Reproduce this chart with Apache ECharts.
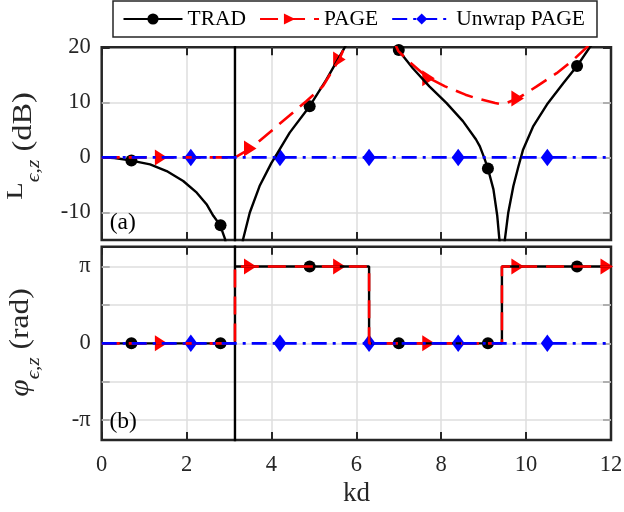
<!DOCTYPE html>
<html>
<head>
<meta charset="utf-8">
<script src="https://cdn.jsdelivr.net/npm/echarts@6/dist/echarts.min.js"></script>
<style>
html,body{margin:0;padding:0;background:#fff;}
#chart{width:624px;height:512px;}
</style>
</head>
<body>
<div id="chart"></div>
<script>
const PI = Math.PI;

// ---------- data ----------
const seriesNames = ['TRAD', 'PAGE', 'Unwrap PAGE'];

// (a) magnitude, dB
const kdTradMag = [0, 0.3, 0.67, 1.14, 1.53, 1.92, 2.24, 2.47, 2.63, 2.79, 2.905, 2.95, 3.14, 3.14, 3.14, 3.30, 3.33, 3.49, 3.72, 4.0, 4.08, 4.43, 4.90, 5.29, 5.69, 5.80, 6.0, 6.28, 6.6, 6.9, 6.96, 7.33, 7.72, 8.12, 8.51, 8.82, 8.91, 9.0, 9.09, 9.23, 9.32, 9.37, 9.40, 9.42, 9.46, 9.50, 9.58, 9.70, 9.82, 9.93, 10.17, 10.49, 10.88, 11.19, 11.5, 11.7, 12];
const tradMag   = [0, -0.1, -0.54, -1.27, -2.47, -4.28, -6.4, -8.5, -10.6, -12.3, -14.8, -17, -60, 60, -60, -17, -14.9, -10, -5.2, -1.0, 0, 4.5, 9.3, 14.1, 19.5, 21, 26, 50, 27, 20.5, 19.8, 16.2, 12.9, 9.9, 6.6, 3.25, 2.0, 0.2, -1.75, -5.8, -10.6, -14.9, -17.5, -50, -17.5, -14.9, -10, -5.2, -1.6, 1.45, 5.7, 9.6, 13.5, 16.5, 20, 22, 25];

const kdPageMag = [0, 3.14, 3.53, 4.04, 4.82, 5.21, 5.61, 5.72, 5.9, 6.28, 6.6, 6.99, 7.23, 7.66, 8.09, 8.57, 8.8, 9.27, 9.4, 9.54, 9.82, 10.25, 10.72, 11.11, 11.43, 12];
const pageMag   = [0, 0, 1.75, 5.1, 10.2, 12.9, 18.0, 20, 23, 35, 26, 19.3, 17.5, 14.6, 12.9, 11.4, 10.8, 9.9, 9.7, 9.9, 10.8, 12.9, 15.3, 17.7, 20, 24];

const kdUnwrapMag = [0, 12];
const unwrapMag   = [0, 0];

const kdTradMarks = [0.7, 2.8, 4.9, 7.0, 9.1, 11.2];
const tradMagMarks = [-0.55, -12.3, 9.3, 19.5, -2.0, 16.6];
const kdPageMarksMag = [1.4, 3.5, 5.6, 7.7, 9.8];
const pageMagMarks = [0, 1.6, 17.8, 14.4, 10.7];
const kdUnwrapMarks = [2.1, 4.2, 6.3, 8.4, 10.5];
const unwrapMagMarks = [0, 0, 0, 0, 0];

// (b) phase, rad
const kdTradPhase = [0, 3.14, 3.14, 3.14, 3.14, 6.30, 6.30, 9.43, 9.43, 12];
const tradPhase   = [0, 0, -10, 10, PI, PI, 0, 0, PI, PI];
const kdPagePhase = [0, 3.14, 3.14, 6.30, 6.30, 9.43, 9.43, 12];
const pagePhase   = [0, 0, PI, PI, 0, 0, PI, PI];
const kdUnwrapPhase = [0, 12];
const unwrapPhase   = [0, 0];

const tradPhaseMarks = [0, 0, PI, 0, 0, PI];
const kdPageMarksPhase = [1.4, 3.5, 5.6, 7.7, 9.8, 11.9];
const pagePhaseMarks = [0, PI, PI, 0, PI, PI];
const unwrapPhaseMarks = [0, 0, 0, 0, 0];

// axes / ticks
const magTicks = [-10, 0, 10, 20];
const magGrid = [-10, 0, 10];
const phaseTicks = [-PI, -PI / 2, 0, PI / 2, PI];
const phaseLabelValues = [-PI, 0, PI];
const phaseLabelText = ['-π', '0', 'π'];

// ---------- chart ----------
const FONT = '"Liberation Serif", "Times New Roman", serif';
const AXC = '#262626';
const GRIDC = '#dedede';
const pairs = (xs, ys) => xs.map((x, i) => [x, ys[i]]);

const styles = {
  'TRAD': {color: '#000000', width: 2.4, dash: 'solid', symbol: 'circle', size: 12, rotate: 0},
  'PAGE': {color: '#ff0000', width: 2.6, dash: [18, 9], symbol: 'triangle', size: [16, 12.5], rotate: -90},
  'Unwrap PAGE': {color: '#0000ff', width: 2.6, dash: [15, 6, 3, 6], symbol: 'diamond', size: [13, 17.5], rotate: 0}
};

function lineSeries(name, xs, ys, gi) {
  const s = styles[name];
  return {
    name: name, type: 'line', xAxisIndex: gi, yAxisIndex: gi,
    data: pairs(xs, ys), showSymbol: false, symbol: s.symbol, symbolSize: 11, symbolRotate: s.rotate,
    lineStyle: {color: s.color, width: s.width, type: s.dash},
    itemStyle: {color: s.color}, clip: true, silent: true, animation: false
  };
}
function markSeries(name, xs, ys, gi) {
  const s = styles[name];
  return {
    name: name, type: 'scatter', xAxisIndex: gi, yAxisIndex: gi,
    data: pairs(xs, ys), symbol: s.symbol, symbolSize: s.size, symbolRotate: s.rotate,
    itemStyle: {color: s.color, opacity: 1}, silent: true, animation: false
  };
}
// horizontal grid lines drawn as mark lines on an empty helper series
function gridSeries(gi, values) {
  return {
    type: 'line', xAxisIndex: gi, yAxisIndex: gi, data: [], silent: true, animation: false,
    markLine: {
      silent: true, symbol: 'none', z: 1, animation: false,
      label: {show: false},
      lineStyle: {color: GRIDC, width: 1.5, type: 'solid'},
      emphasis: {disabled: true},
      data: values.map(v => ({yAxis: v}))
    }
  };
}

const tickStyle = {show: true, inside: true, length: 8, lineStyle: {color: AXC, width: 2}};
const vGrid = {show: true, showMinLine: false, showMaxLine: false, lineStyle: {color: GRIDC, width: 1.5}};
const labelStyle = {fontFamily: FONT, fontSize: 22.5, color: AXC};
const noLine = {show: false, onZero: false};

function xAx(gi, pos, labels) {
  return {
    type: 'value', gridIndex: gi, position: pos, min: 0, max: 12, interval: 2,
    axisLine: noLine,
    axisTick: tickStyle,
    axisLabel: labels ? Object.assign({show: true, margin: 14, showMinLabel: true, showMaxLabel: true}, labelStyle) : {show: false},
    splitLine: pos === 'bottom' ? vGrid : {show: false}
  };
}
function yAx(gi, pos, min, max, ticks, labelVals, fmt) {
  return {
    type: 'value', gridIndex: gi, position: pos, min: min, max: max,
    axisLine: noLine,
    axisTick: Object.assign({customValues: ticks}, tickStyle),
    axisLabel: labelVals ? Object.assign({show: true, margin: 11, customValues: labelVals, formatter: fmt}, labelStyle) : {show: false},
    splitLine: {show: false}
  };
}
const phaseFmt = v => {
  for (let i = 0; i < phaseLabelValues.length; i++) {
    if (Math.abs(v - phaseLabelValues[i]) < 1e-6) return phaseLabelText[i];
  }
  return '';
};

const gridL = 101.7, gridW = 509.3;
const option = {
  animation: false,
  backgroundColor: '#ffffff',
  grid: [
    {left: gridL, top: 47.3, width: gridW, height: 192.7, show: true, borderColor: AXC, borderWidth: 2.5, backgroundColor: 'transparent', containLabel: false, outerBoundsMode: 'none'},
    {left: gridL, top: 246.7, width: gridW, height: 193.3, show: true, borderColor: AXC, borderWidth: 2.5, backgroundColor: 'transparent', containLabel: false, outerBoundsMode: 'none'}
  ],
  xAxis: [xAx(0, 'bottom', false), xAx(1, 'bottom', true), xAx(0, 'top', false), xAx(1, 'top', false)],
  yAxis: [
    yAx(0, 'left', -15, 20, magTicks, magTicks, v => String(v)),
    yAx(1, 'left', -3.95, 3.95, phaseTicks, phaseLabelValues, phaseFmt),
    yAx(0, 'right', -15, 20, magTicks, null, null),
    yAx(1, 'right', -3.95, 3.95, phaseTicks, null, null)
  ],
  legend: {
    left: 113, top: 1,
    data: seriesNames,
    itemWidth: 59, itemHeight: 14, itemGap: 13,
    padding: [7, 12, 7, 9.5],
    borderColor: AXC, borderWidth: 1.5, backgroundColor: '#ffffff',
    textStyle: {fontFamily: FONT, fontSize: 21.5, color: '#000000'},
    selectedMode: false
  },
  series: [
    gridSeries(0, magGrid),
    gridSeries(1, phaseTicks.filter(v => Math.abs(v) < 3.5)),
    lineSeries('TRAD', kdTradMag, tradMag, 0),
    markSeries('TRAD', kdTradMarks, tradMagMarks, 0),
    lineSeries('PAGE', kdPageMag, pageMag, 0),
    markSeries('PAGE', kdPageMarksMag, pageMagMarks, 0),
    lineSeries('Unwrap PAGE', kdUnwrapMag, unwrapMag, 0),
    markSeries('Unwrap PAGE', kdUnwrapMarks, unwrapMagMarks, 0),
    lineSeries('TRAD', kdTradPhase, tradPhase, 1),
    markSeries('TRAD', kdTradMarks, tradPhaseMarks, 1),
    lineSeries('PAGE', kdPagePhase, pagePhase, 1),
    markSeries('PAGE', kdPageMarksPhase, pagePhaseMarks, 1),
    lineSeries('Unwrap PAGE', kdUnwrapPhase, unwrapPhase, 1),
    markSeries('Unwrap PAGE', kdUnwrapMarks, unwrapPhaseMarks, 1)
  ],
  graphic: [
    {
      type: 'text', x: 23.7, y: 146, rotation: Math.PI / 2, scaleX: 1.2, silent: true,
      style: {
        text: '{l|L}{s|ϵ,z}{m| (dB)}', align: 'center', verticalAlign: 'middle',
        rich: {
          m: {fontFamily: FONT, fontSize: 27, lineHeight: 40, fill: AXC},
          l: {fontFamily: FONT, fontSize: 24, lineHeight: 28, verticalAlign: 'top', fill: AXC},
          s: {fontFamily: FONT, fontSize: 18, lineHeight: 18, verticalAlign: 'bottom', fontStyle: 'italic', fill: AXC}
        }
      }
    },
    {
      type: 'text', x: 20.7, y: 342.5, rotation: Math.PI / 2, scaleX: 1.17, silent: true,
      style: {
        text: '{i|φ}{s|ϵ,z}{m| (rad)}', align: 'center', verticalAlign: 'middle',
        rich: {
          m: {fontFamily: FONT, fontSize: 27, lineHeight: 46, fill: AXC},
          i: {fontFamily: FONT, fontSize: 27, lineHeight: 46, fontStyle: 'italic', fill: AXC},
          s: {fontFamily: FONT, fontSize: 18, lineHeight: 18, verticalAlign: 'bottom', fontStyle: 'italic', fill: AXC}
        }
      }
    },
    {
      type: 'text', x: 356.5, y: 493.6, silent: true,
      style: {text: 'kd', align: 'center', verticalAlign: 'middle', fontFamily: FONT, fontSize: 27, fill: AXC}
    },
    {
      type: 'text', x: 109.7, y: 223.2, silent: true, z: 10,
      style: {text: '(a)', align: 'left', verticalAlign: 'middle', fontFamily: FONT, fontSize: 23.5, fill: '#000000'}
    },
    {
      type: 'text', x: 109.5, y: 421.7, silent: true, z: 10,
      style: {text: '(b)', align: 'left', verticalAlign: 'middle', fontFamily: FONT, fontSize: 23.5, fill: '#000000'}
    }
  ]
};

const chart = echarts.init(document.getElementById('chart'), null, {renderer: 'canvas', width: 624, height: 512});
chart.setOption(option);
</script>
</body>
</html>
